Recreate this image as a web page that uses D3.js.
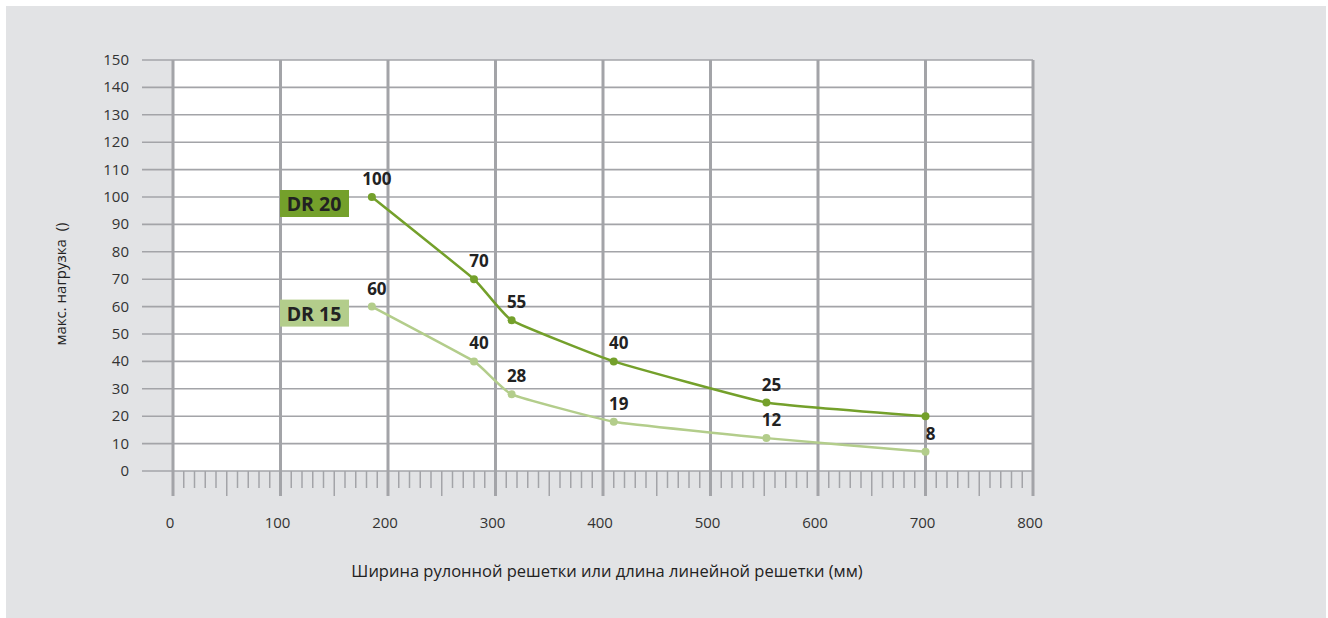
<!DOCTYPE html>
<html>
<head>
<meta charset="utf-8">
<script src="https://cdn.jsdelivr.net/npm/d3@7"></script>
<style>
  body { margin: 0; background: #fff; }
  text { font-family: "Open Sans", "Noto Sans", sans-serif; }
</style>
</head>
<body>
<svg width="1328" height="618"></svg>
<script>
// widths in mm where loads were measured
var widths = [185, 280, 315, 410, 552, 700];
var dr20 = [100, 70, 55, 40, 25, 20];
var dr15 = [60, 40, 28, 18, 12, 7];
var dr20Labels = ['100', '70', '55', '40', '25', ''];
var dr15Labels = ['60', '40', '28', '19', '12', '8'];
var yTicks = [0, 10, 20, 30, 40, 50, 60, 70, 80, 90, 100, 110, 120, 130, 140, 150];
var xTicks = [0, 100, 200, 300, 400, 500, 600, 700, 800];

var svg = d3.select('svg');

svg.append('rect')
  .attr('x', 6).attr('y', 6)
  .attr('width', 1320).attr('height', 612)
  .attr('fill', '#e2e3e5');

var x = d3.scaleLinear().domain([0, 800]).range([173, 1033]);
var y = d3.scaleLinear().domain([0, 150]).range([471, 60]);
var gridColor = '#a3a4a8';

svg.append('rect')
  .attr('x', x(0)).attr('y', y(150))
  .attr('width', x(800) - x(0)).attr('height', y(0) - y(150))
  .attr('fill', '#fff');

// horizontal grid + y labels
var yg = svg.append('g');
yg.selectAll('line').data(yTicks).enter().append('line')
  .attr('x1', 142).attr('x2', x(800))
  .attr('y1', d => y(d)).attr('y2', d => y(d))
  .attr('stroke', gridColor).attr('stroke-width', 1.6);
yg.selectAll('text').data(yTicks).enter().append('text')
  .attr('x', 129).attr('y', d => y(d) + 5)
  .attr('text-anchor', 'end')
  .attr('font-size', 15).attr('fill', '#333')
  .text(d => d);

// minor ticks under the axis
var minor = d3.range(0, 801, 10).filter(d => d % 100 != 0);
svg.append('g').selectAll('line').data(minor).enter().append('line')
  .attr('x1', d => x(d)).attr('x2', d => x(d))
  .attr('y1', y(0)).attr('y2', d => d % 50 == 0 ? 496 : 488)
  .attr('stroke', gridColor).attr('stroke-width', 1.5);

// major vertical lines + x labels
var xg = svg.append('g');
xg.selectAll('line').data(xTicks).enter().append('line')
  .attr('x1', d => x(d)).attr('x2', d => x(d))
  .attr('y1', y(150)).attr('y2', 496)
  .attr('stroke', gridColor).attr('stroke-width', 3);
xg.selectAll('text').data(xTicks).enter().append('text')
  .attr('x', d => x(d) - 3).attr('y', 528)
  .attr('text-anchor', 'middle')
  .attr('font-size', 15).attr('fill', '#333')
  .text(d => d);

function drawSeries(values, labels, color) {
  var pts = widths.map((w, i) => ({x: w, y: values[i], label: labels[i]}));
  var line = d3.line()
    .x(d => x(d.x)).y(d => y(d.y))
    .curve(d3.curveCardinal.tension(0.65));
  svg.append('path')
    .datum(pts)
    .attr('d', line)
    .attr('fill', 'none')
    .attr('stroke', color)
    .attr('stroke-width', 2.5);
  svg.append('g').selectAll('circle').data(pts).enter().append('circle')
    .attr('cx', d => x(d.x)).attr('cy', d => y(d.y))
    .attr('r', 4).attr('fill', color);
  svg.append('g').selectAll('text').data(pts).enter().append('text')
    .attr('x', d => x(d.x) + 5).attr('y', d => y(d.y) - 12)
    .attr('text-anchor', 'middle')
    .attr('font-size', 17).attr('font-weight', 'bold').attr('fill', '#222')
    .text(d => d.label);
}

drawSeries(dr15, dr15Labels, '#b3cd8b');
drawSeries(dr20, dr20Labels, '#74a02b');

// legend boxes
var legend = [
  {name: 'DR 20', color: '#74a02b', v: 100},
  {name: 'DR 15', color: '#b3cd8b', v: 60}
];
legend.forEach(function(l) {
  svg.append('rect')
    .attr('x', 280).attr('y', y(l.v) - 7)
    .attr('width', 69).attr('height', 27)
    .attr('fill', l.color);
  svg.append('text')
    .attr('x', 314).attr('y', y(l.v) + 14)
    .attr('text-anchor', 'middle')
    .attr('font-size', 19.5).attr('font-weight', 'bold').attr('fill', '#222')
    .text(l.name);
});

svg.append('text')
  .attr('transform', 'translate(66,284) rotate(-90)')
  .attr('text-anchor', 'middle')
  .attr('font-size', 15).attr('fill', '#222')
  .style('white-space', 'pre')
  .text('макс. нагрузка  ()');

svg.append('text')
  .attr('x', 607).attr('y', 577)
  .attr('text-anchor', 'middle')
  .attr('font-size', 16.5).attr('fill', '#222')
  .text('Ширина рулонной решетки или длина линейной решетки (мм)');
</script>
</body>
</html>
